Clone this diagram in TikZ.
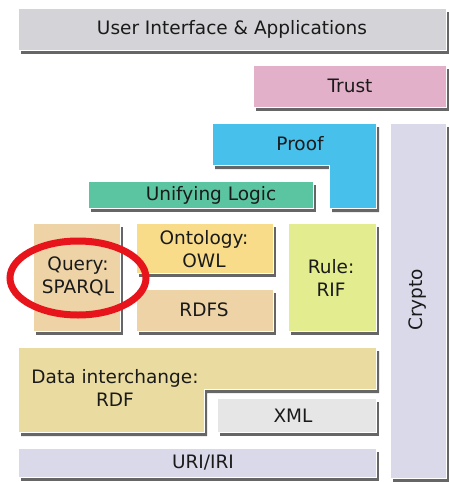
\documentclass[tikz,border=0pt]{standalone}
\usepackage{fontspec}
\setmainfont{DejaVu Sans}
\usetikzlibrary{shadows}
\definecolor{cUI}{HTML}{D4D4D8}
\definecolor{cTrust}{HTML}{E2B0C8}
\definecolor{cProof}{HTML}{47C1EC}
\definecolor{cCrypto}{HTML}{DAD9EA}
\definecolor{cLogic}{HTML}{5BC4A0}
\definecolor{cQuery}{HTML}{EDD3A6}
\definecolor{cOnto}{HTML}{F8DC8A}
\definecolor{cRule}{HTML}{E3EC8E}
\definecolor{cData}{HTML}{EADCA0}
\definecolor{cXML}{HTML}{E6E6E6}
\definecolor{cRing}{HTML}{E8141B}
\definecolor{cText}{HTML}{1A1A1A}
\begin{document}
\begin{tikzpicture}[x=1pt,y=-1pt,
  blk/.style={fill=#1, draw=white, line width=1pt,
    drop shadow={shadow xshift=3pt, shadow yshift=-4pt, opacity=0.6, fill=black}},
  lbl/.style={font=\fontsize{18.5}{23}\selectfont, text=cText, align=center, inner sep=0pt}]
\useasboundingbox[fill=white] (0,0) rectangle (448,482);
% boxes
\path[blk=cUI] (18,8) rectangle (446,50);
\path[blk=cTrust] (253,65) rectangle (446,107);
\path[blk=cCrypto] (390,123) rectangle (446,478);
\path[blk=cProof] (212,123) -- (376,123) -- (376,208) -- (329,208) -- (329,165) -- (212,165) -- cycle;
\path[blk=cLogic] (88,181) rectangle (313,208);
\path[blk=cQuery] (33,223) rectangle (120,331);
\path[blk=cOnto] (136,223) rectangle (273,273);
\path[blk=cQuery] (136,289) rectangle (273,331);
\path[blk=cRule] (288,223) rectangle (376,331);
\path[blk=cData] (18,347) -- (376,347) -- (376,389) -- (204,389) -- (204,432) -- (18,432) -- cycle;
\path[blk=cXML] (217,398) rectangle (376,432);
\path[blk=cCrypto] (18,448) rectangle (376,477);
% labels
\node[lbl] (ui) at (232,29) {User Interface \& Applications};
\node[lbl] (trust) at (350,86) {Trust};
\node[lbl, rotate=90] (crypto) at (418,300) {Crypto};
\node[lbl] (proof) at (300,144) {Proof};
\node[lbl] (logic) at (211,195) {Unifying Logic};
\node[lbl] (query) at (78,276) {Query:\\SPARQL};
\node[lbl] (onto) at (204,249) {Ontology:\\OWL};
\node[lbl] (rdfs) at (204,310) {RDFS};
\node[lbl] (rule) at (331,278) {Rule:\\RIF};
\node[lbl] (data) at (115,388) {Data interchange:\\RDF};
\node[lbl] (xml) at (293,416) {XML};
\node[lbl] (uri) at (203,463) {URI/IRI};
% red ring
\draw[cRing, line width=7pt] (78,278) ellipse [x radius=68, y radius=37];
\end{tikzpicture}
\end{document}
